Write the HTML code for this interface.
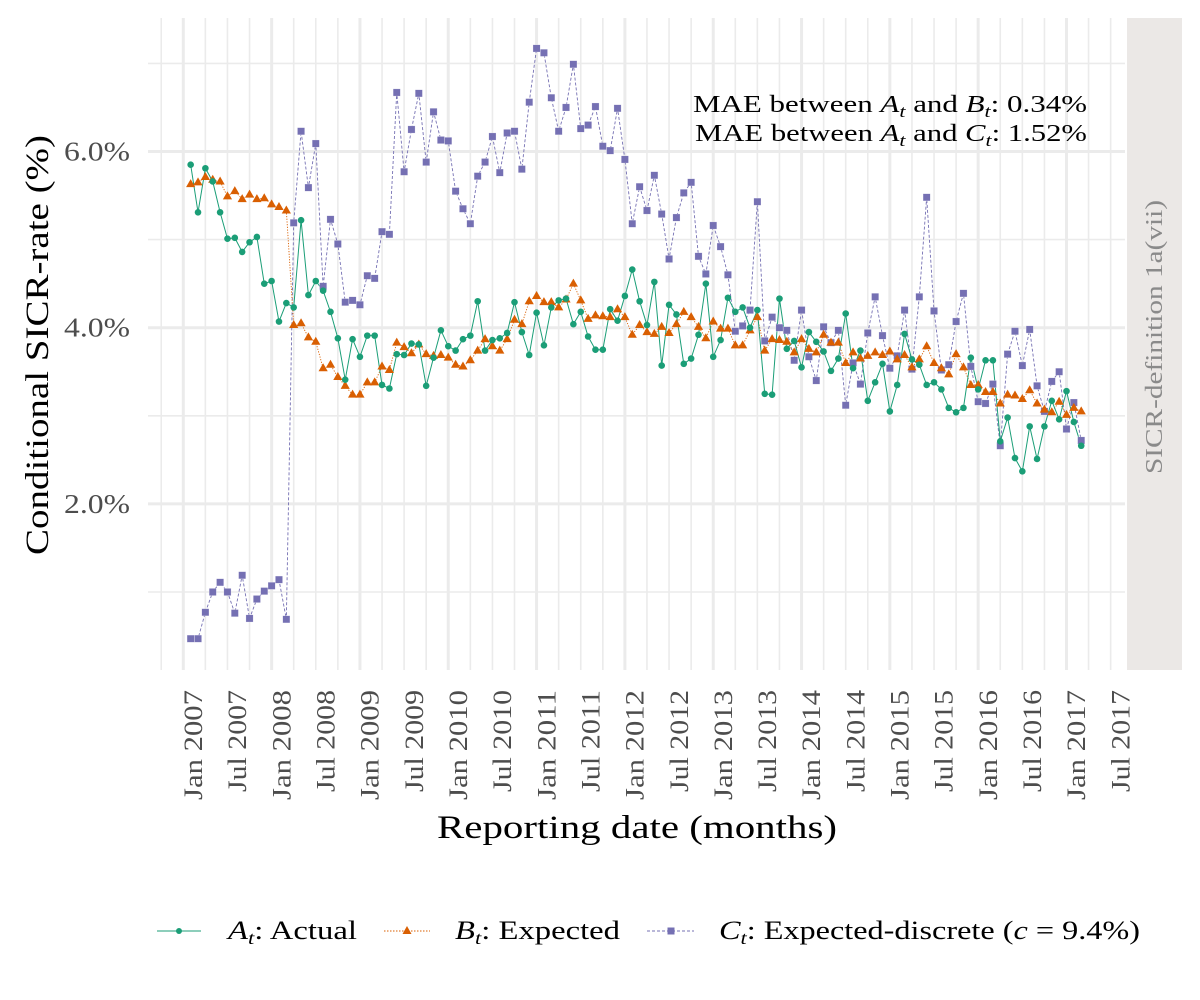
<!DOCTYPE html>
<html><head><meta charset="utf-8">
<style>
html,body{margin:0;padding:0;background:#fff;}
svg{display:block;font-family:"Liberation Serif",serif;}
</style></head>
<body>
<svg id="chart" width="1200" height="1000" viewBox="0 0 1200 1000">
  <rect x="0" y="0" width="1200" height="1000" fill="#fff"/>
  <g id="grid"></g>
  <rect x="1127" y="18" width="55" height="652" fill="#ebe8e6"/>
  <text transform="translate(1162,337) rotate(-90)" text-anchor="middle" font-size="24" fill="#8a8a8a" textLength="274" lengthAdjust="spacingAndGlyphs">SICR-definition 1a(vii)</text>
  <g id="series"></g>
  <g id="yticks"></g>
  <g id="xticks"></g>
  <text transform="translate(48,345) rotate(-90)" text-anchor="middle" font-size="33" fill="#000" textLength="420" lengthAdjust="spacingAndGlyphs">Conditional SICR-rate (%)</text>
  <text x="637" y="838" text-anchor="middle" font-size="33" fill="#000" textLength="400" lengthAdjust="spacingAndGlyphs">Reporting date (months)</text>
  <g>
    <text x="693" y="112" font-size="24" fill="#000" textLength="394" lengthAdjust="spacingAndGlyphs">MAE between <tspan font-style="italic">A</tspan><tspan font-style="italic" font-size="17" dy="5">t</tspan><tspan dy="-5"> and </tspan><tspan font-style="italic">B</tspan><tspan font-style="italic" font-size="17" dy="5">t</tspan><tspan dy="-5">: 0.34%</tspan></text>
    <text x="695" y="141" font-size="24" fill="#000" textLength="392" lengthAdjust="spacingAndGlyphs">MAE between <tspan font-style="italic">A</tspan><tspan font-style="italic" font-size="17" dy="5">t</tspan><tspan dy="-5"> and </tspan><tspan font-style="italic">C</tspan><tspan font-style="italic" font-size="17" dy="5">t</tspan><tspan dy="-5">: 1.52%</tspan></text>
  </g>
  <g>
    <g>
      <line x1="157" y1="931" x2="201" y2="931" stroke="#1b9e77" stroke-width="1"/>
      <circle cx="179" cy="931" r="3" fill="#1b9e77"/>
      <text x="228" y="939" font-size="26" fill="#000" textLength="129" lengthAdjust="spacingAndGlyphs"><tspan font-style="italic">A</tspan><tspan font-style="italic" font-size="18" dy="5">t</tspan><tspan dy="-5">: Actual</tspan></text>
    </g>
    <g>
      <line x1="384" y1="931" x2="430" y2="931" stroke="#d95f02" stroke-width="1" stroke-dasharray="1.5,1.5"/>
      <path d="M407,926 L411.5,934 L402.5,934 Z" fill="#d95f02"/>
      <text x="455" y="939" font-size="26" fill="#000" textLength="165" lengthAdjust="spacingAndGlyphs"><tspan font-style="italic">B</tspan><tspan font-style="italic" font-size="18" dy="5">t</tspan><tspan dy="-5">: Expected</tspan></text>
    </g>
    <g>
      <line x1="647" y1="931" x2="694" y2="931" stroke="#7570b3" stroke-width="1" stroke-dasharray="3,2"/>
      <rect x="667.5" y="927.5" width="7" height="7" fill="#7570b3"/>
      <text x="719" y="939" font-size="26" fill="#000" textLength="421" lengthAdjust="spacingAndGlyphs"><tspan font-style="italic">C</tspan><tspan font-style="italic" font-size="18" dy="5">t</tspan><tspan dy="-5">: Expected-discrete (</tspan><tspan font-style="italic">c</tspan><tspan> = 9.4%)</tspan></text>
    </g>
  </g>
</svg>
<script>
// ---- data ----
const startYear = 2007;
const firstMonthIndex = 1; // Feb 2007 (months since Jan 2007)
const actual = [5.85,5.31,5.81,5.66,5.31,5.01,5.02,4.86,4.97,5.03,4.50,4.53,4.07,4.28,4.23,5.22,4.37,4.53,4.42,4.18,3.88,3.41,3.87,3.67,3.91,3.91,3.35,3.31,3.70,3.69,3.82,3.81,3.34,3.66,3.97,3.79,3.74,3.87,3.91,4.30,3.74,3.86,3.88,3.94,4.29,3.95,3.69,4.17,3.80,4.23,4.31,4.33,4.04,4.18,3.90,3.75,3.75,4.21,4.08,4.36,4.66,4.30,4.03,4.52,3.57,4.26,4.15,3.59,3.65,3.92,4.50,3.67,3.86,4.34,4.18,4.23,4.00,4.20,3.25,3.24,4.33,3.76,3.85,3.55,3.95,3.84,3.73,3.51,3.65,4.16,3.54,3.74,3.17,3.38,3.59,3.05,3.35,3.93,3.64,3.58,3.35,3.38,3.30,3.09,3.04,3.09,3.66,3.30,3.63,3.63,2.71,2.98,2.52,2.37,2.88,2.51,2.88,3.17,2.96,3.28,2.93,2.66];
const expected = [5.63,5.65,5.71,5.68,5.66,5.49,5.55,5.46,5.51,5.46,5.47,5.40,5.37,5.33,4.03,4.05,3.89,3.84,3.54,3.58,3.44,3.34,3.24,3.24,3.38,3.38,3.56,3.52,3.83,3.78,3.71,3.81,3.70,3.68,3.69,3.66,3.58,3.56,3.63,3.74,3.87,3.79,3.74,3.87,4.09,4.04,4.30,4.36,4.29,4.29,4.23,4.32,4.50,4.31,4.10,4.14,4.13,4.12,4.21,4.12,3.92,4.03,3.95,3.93,4.01,3.94,4.04,4.18,4.12,4.01,3.88,4.07,3.99,3.99,3.80,3.80,3.97,4.12,3.74,3.87,3.86,3.84,3.72,3.87,3.76,3.72,3.92,3.83,3.83,3.60,3.72,3.65,3.68,3.72,3.69,3.73,3.64,3.69,3.55,3.64,3.79,3.60,3.54,3.47,3.70,3.55,3.35,3.35,3.27,3.27,3.14,3.24,3.23,3.19,3.29,3.14,3.07,3.04,3.16,3.01,3.09,3.05];
const discrete = [0.47,0.47,0.77,1.00,1.11,1.00,0.76,1.19,0.70,0.92,1.01,1.07,1.14,0.69,5.19,6.23,5.59,6.09,4.47,5.23,4.95,4.29,4.31,4.26,4.59,4.56,5.09,5.06,6.67,5.77,6.25,6.66,5.88,6.45,6.13,6.12,5.55,5.35,5.18,5.72,5.88,6.17,5.76,6.21,6.23,5.80,6.56,7.17,7.12,6.61,6.23,6.50,6.99,6.26,6.30,6.51,6.06,6.01,6.49,5.91,5.18,5.60,5.33,5.73,5.29,4.78,5.25,5.53,5.65,4.81,4.61,5.16,4.92,4.60,3.96,4.02,4.20,5.43,3.85,4.12,4.00,3.97,3.63,4.20,3.67,3.40,4.01,3.83,3.97,3.12,3.60,3.36,3.94,4.35,3.91,3.54,3.68,4.20,3.53,4.35,5.48,4.19,3.52,3.58,4.07,4.39,3.56,3.16,3.14,3.36,2.66,3.70,3.96,3.57,3.98,3.34,3.05,3.39,3.50,2.85,3.15,2.72];
const yTickValues = [2, 4, 6];
const yTickLabels = ["2.0%", "4.0%", "6.0%"];
const monthNames = ["Jan","Jul"];

// ---- scales ----
const PX_PER_MONTH = 7.36, X0 = 183.3;
function xScale(m){ return X0 + PX_PER_MONTH * m; }
function yScale(v){ return 327.7 - (v - 4) * 88.1; }
const NS = "http://www.w3.org/2000/svg";
function mk(tag, attrs, parent){ const e = document.createElementNS(NS, tag); for (const k in attrs) e.setAttribute(k, attrs[k]); parent.appendChild(e); return e; }

const L = 148, R = 1125, T = 18, B = 670;
const grid = document.getElementById('grid');
for (let v = 1; v <= 7; v += 1) {
  const y = yScale(v);
  const gl = mk('line', {x1:L, x2:R, y1:y, y2:y, stroke:'#ebebeb', 'stroke-width': (v % 2 === 0) ? 3 : 1.6}, grid);
  
  
}
for (let m = -3; m <= 126; m += 3) {
  const x = xScale(m);
  if (x < L || x > R) continue;
  const gl = mk('line', {x1:x, x2:x, y1:T, y2:B, stroke:'#ebebeb', 'stroke-width': (m % 12 === 0) ? 3 : 1.6}, grid);
  
  
}

const yt = document.getElementById('yticks');
yTickValues.forEach((v, i) => {
  const t = mk('text', {x:130, y:yScale(v) + 9, 'text-anchor':'end', 'font-size':27, fill:'#4d4d4d', textLength:66, lengthAdjust:'spacingAndGlyphs'}, yt);
  t.textContent = yTickLabels[i];
  
  
});

const xt = document.getElementById('xticks');
for (let m = 0; m <= 126; m += 6) {
  const label = monthNames[(m % 12) / 6] + " " + (startYear + Math.floor(m / 12));
  const cx = xScale(m) + 9.7;
  const len = label.startsWith("Jan") ? 110 : 102;
  const t = mk('text', {transform:`translate(${cx + 9},690) rotate(-90)`, 'text-anchor':'end', 'font-size':26, fill:'#4d4d4d', textLength:len, lengthAdjust:'spacingAndGlyphs'}, xt);
  t.textContent = label;
  
  
}

const sg = document.getElementById('series');
function linePath(vals){ return vals.map((v,i)=> (i?'L':'M') + xScale(firstMonthIndex+i).toFixed(2) + ',' + yScale(v).toFixed(2)).join(' '); }

const pc = mk('path', {d: linePath(discrete), fill:'none', stroke:'#7570b3', 'stroke-width':0.9, 'stroke-dasharray':'3,2'}, sg);


const pb = mk('path', {d: linePath(expected), fill:'none', stroke:'#d95f02', 'stroke-width':0.9, 'stroke-dasharray':'1.2,1.5'}, sg);


const pa = mk('path', {d: linePath(actual), fill:'none', stroke:'#1b9e77', 'stroke-width':1}, sg);



discrete.forEach((v,i) => {
  const x = xScale(firstMonthIndex+i), y = yScale(v);
  const r = mk('rect', {x:x-3.6, y:y-3.6, width:7.2, height:7.2, fill:'#7570b3', stroke:'#fff', 'stroke-width':0.4, 'stroke-opacity':0.6}, sg);
  
  
});
expected.forEach((v,i) => {
  const x = xScale(firstMonthIndex+i), y = yScale(v);
  const p = mk('path', {d:`M${x},${y-5} L${x+4.6},${y+3} L${x-4.6},${y+3} Z`, fill:'#d95f02'}, sg);
  
  
});
actual.forEach((v,i) => {
  const x = xScale(firstMonthIndex+i), y = yScale(v);
  const c = mk('circle', {cx:x, cy:y, r:3.3, fill:'#1b9e77'}, sg);
  
  
});
</script>
</body></html>
